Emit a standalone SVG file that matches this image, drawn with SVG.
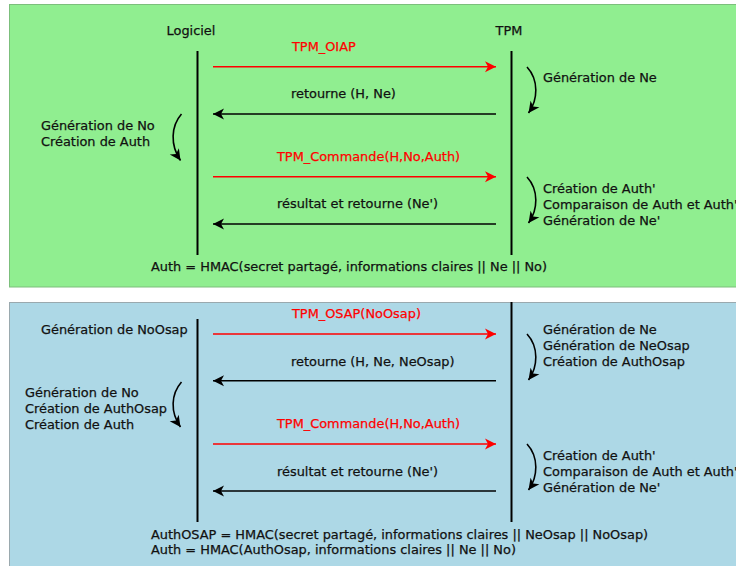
<svg xmlns="http://www.w3.org/2000/svg" width="736" height="566" viewBox="0 0 736 566">
<style>
text{font-family:"DejaVu Sans","Liberation Sans",sans-serif;font-size:12.9px;fill:#111;stroke:#111;stroke-width:0.25}
.red{fill:#ff0000;stroke:#ff0000}
.life{stroke:#000;stroke-width:2;fill:none}
.msgR{stroke:#ff0000;stroke-width:1.6;fill:none;marker-end:url(#ahR)}
.msgB{stroke:#000;stroke-width:1.6;fill:none;marker-end:url(#ahB)}
.curve{stroke:#000;stroke-width:1.6;fill:none;marker-end:url(#ahB)}
</style>
<defs>
<marker id="ahR" markerUnits="userSpaceOnUse" markerWidth="14" markerHeight="12" refX="12" refY="6" orient="auto" overflow="visible">
<path d="M12,6 L1,0.5 L4,6 L1,11.5 Z" fill="#ff0000"/>
</marker>
<marker id="ahB" markerUnits="userSpaceOnUse" markerWidth="14" markerHeight="12" refX="12" refY="6" orient="auto" overflow="visible">
<path d="M12,6 L1,0.5 L4,6 L1,11.5 Z" fill="#000"/>
</marker>
</defs>
<rect x="0" y="0" width="736" height="566" fill="#ffffff"/>
<g id="panel-oiap">
<rect x="9.5" y="4.5" width="740" height="282.5" fill="#90ee90" stroke="#7cbf7c" stroke-width="1"/>
</g>
<g id="panel-osap">
<rect x="9.5" y="302.5" width="740" height="280" fill="#add8e6" stroke="#9aa9ae" stroke-width="1"/>
</g>
<g id="logiciel-1">
<text x="191" y="35" text-anchor="middle">Logiciel</text>
<line class="life" x1="197.5" y1="51" x2="197.5" y2="255"/>
</g>
<g id="tpm-1">
<text x="509" y="35" text-anchor="middle">TPM</text>
<line class="life" x1="511.5" y1="51" x2="511.5" y2="255"/>
</g>
<g id="notes-1">
<text x="41" y="130">Génération de No</text>
<text x="41" y="146">Création de Auth</text>
<text x="543" y="82">Génération de Ne</text>
<text x="543" y="193">Création de Auth'</text>
<text x="543" y="209">Comparaison de Auth et Auth'</text>
<text x="543" y="225">Génération de Ne'</text>
<text x="151" y="271">Auth = HMAC(secret partagé, informations claires || Ne || No)</text>
</g>
<g id="labels-1">
<text class="red" x="292" y="51">TPM_OIAP</text>
<text x="291" y="98">retourne (H, Ne)</text>
<text class="red" x="277" y="161">TPM_Commande(H,No,Auth)</text>
<text x="277" y="208">résultat et retourne (Ne')</text>
</g>
<g id="logiciel-2">
<line class="life" x1="197.5" y1="319" x2="197.5" y2="522"/>
</g>
<g id="tpm-2">
<line class="life" x1="511.5" y1="302" x2="511.5" y2="522"/>
</g>
<g id="notes-2">
<text x="41" y="334">Génération de NoOsap</text>
<text x="25" y="397">Génération de No</text>
<text x="25" y="413">Création de AuthOsap</text>
<text x="25" y="429">Création de Auth</text>
<text x="543" y="334">Génération de Ne</text>
<text x="543" y="350">Génération de NeOsap</text>
<text x="543" y="366">Création de AuthOsap</text>
<text x="543" y="460">Création de Auth'</text>
<text x="543" y="476">Comparaison de Auth et Auth'</text>
<text x="543" y="492">Génération de Ne'</text>
<text x="151" y="539">AuthOSAP = HMAC(secret partagé, informations claires || NeOsap || NoOsap)</text>
<text x="151" y="554">Auth = HMAC(AuthOsap, informations claires || Ne || No)</text>
</g>
<g id="labels-2">
<text class="red" x="292" y="318">TPM_OSAP(NoOsap)</text>
<text x="291" y="366">retourne (H, Ne, NeOsap)</text>
<text class="red" x="277" y="428">TPM_Commande(H,No,Auth)</text>
<text x="277" y="476">résultat et retourne (Ne')</text>
</g>
<g id="connectors">
<line class="msgR" x1="213" y1="66.7" x2="496" y2="66.7"/>
<line class="msgB" x1="496" y1="114" x2="213" y2="114"/>
<line class="msgR" x1="213" y1="176.7" x2="496" y2="176.7"/>
<line class="msgB" x1="496" y1="224" x2="213" y2="224"/>
<path class="curve" d="M527,67 C539,80 538,100 528.5,113"/>
<path class="curve" d="M181.5,114 C171,126 170,145 180.5,160.5"/>
<path class="curve" d="M527,177 C539,190 538,210 528.5,223"/>
<line class="msgR" x1="213" y1="334" x2="496" y2="334"/>
<line class="msgB" x1="496" y1="380.7" x2="213" y2="380.7"/>
<line class="msgR" x1="213" y1="444" x2="496" y2="444"/>
<line class="msgB" x1="496" y1="491" x2="213" y2="491"/>
<path class="curve" d="M527,334 C539,347 538,367 528.5,380"/>
<path class="curve" d="M181.5,382 C171,394 170,412 180.5,427"/>
<path class="curve" d="M527,444 C539,457 538,477 528.5,490"/>
</g>
</svg>
